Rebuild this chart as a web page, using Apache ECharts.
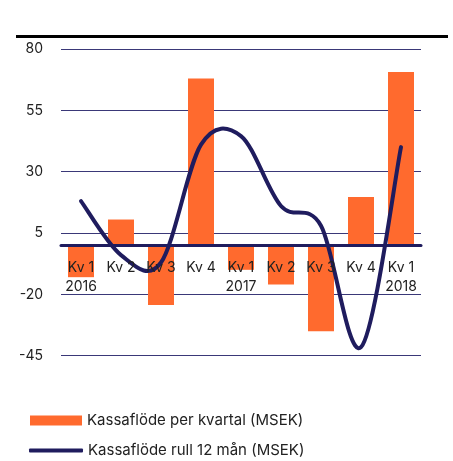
<!DOCTYPE html>
<html>
<head>
<meta charset="utf-8">
<script src="https://cdn.jsdelivr.net/npm/echarts@6/dist/echarts.min.js"></script>
<style>
html,body{margin:0;padding:0;background:#fff;}
#chart{width:453px;height:461px;}
</style>
</head>
<body>
<div id="chart"></div>
<script>
const categories = ['Kv 1\n2016','Kv 2','Kv 3','Kv 4','Kv 1\n2017','Kv 2','Kv 3','Kv 4','Kv 1\n2018'];
const quarterly = [-13, 10.5, -24.3, 68, -10, -16, -35, 19.7, 70.6];
const rolling12 = [18, -4, -7, 41, 44.5, 16, 8, -41.5, 40];
const yTicks = [-45, -20, 5, 30, 55, 80];
const Y_MIN = -45, Y_MAX = 80;

const GRID_TOP = 49, GRID_H = 306.7;
const zeroOffset = -GRID_H * (0 - Y_MIN) / (Y_MAX - Y_MIN);

const chart = echarts.init(document.getElementById('chart'));
const navy = '#1f1c5e';
const font = 'Inter, "Noto Sans", sans-serif';

// Catmull-Rom spline through the points, in pixel space from api.coord
function renderSpline(params, api) {
  if (params.dataIndex !== 0) return null;
  const pts = rolling12.map((v, i) => api.coord([i, v]));
  let d = 'M' + pts[0][0] + ' ' + pts[0][1];
  for (let i = 0; i < pts.length - 1; i++) {
    const p0 = pts[Math.max(0, i - 1)], p1 = pts[i], p2 = pts[i + 1], p3 = pts[Math.min(pts.length - 1, i + 2)];
    const c1x = p1[0] + (p2[0] - p0[0]) / 6, c1y = p1[1] + (p2[1] - p0[1]) / 6;
    const c2x = p2[0] - (p3[0] - p1[0]) / 6, c2y = p2[1] - (p3[1] - p1[1]) / 6;
    d += ' C' + c1x + ' ' + c1y + ' ' + c2x + ' ' + c2y + ' ' + p2[0] + ' ' + p2[1];
  }
  return {
    type: 'path',
    shape: { pathData: d },
    style: { stroke: navy, lineWidth: 4, fill: 'none', lineCap: 'round', lineJoin: 'round' }
  };
}

chart.setOption({
  animation: false,
  textStyle: { fontFamily: font },
  grid: { left: 61, right: 32, top: GRID_TOP, height: GRID_H, containLabel: false },
  graphic: [
    { type: 'rect', shape: { x: 16, y: 35, width: 432, height: 3 }, style: { fill: '#000' } }
  ],
  legend: [
    { left: 30, top: 413, padding: 0, itemWidth: 52, itemHeight: 10,
      textStyle: { fontSize: 15, color: '#222', fontFamily: font },
      data: [{ name: 'Kassaflöde per kvartal (MSEK)', icon: 'rect' }] },
    { left: 29, top: 443, padding: 0, itemWidth: 54, itemHeight: 4,
      textStyle: { fontSize: 15, color: '#222', fontFamily: font },
      data: [{ name: 'Kassaflöde rull 12 mån (MSEK)', icon: 'roundRect' }] }
  ],
  xAxis: {
    type: 'category', data: categories,
    offset: zeroOffset,
    axisLine: { onZero: false, lineStyle: { color: navy, width: 3 } },
    axisTick: { show: false },
    axisLabel: { color: '#222', fontSize: 14, lineHeight: 19, margin: 13, interval: 0 },
    z: 10
  },
  yAxis: {
    type: 'value', min: Y_MIN, max: Y_MAX, interval: 25,
    axisLine: { show: false }, axisTick: { show: false },
    axisLabel: { color: '#222', fontSize: 14, margin: 18,
      formatter: v => yTicks.includes(v) ? String(v) : '' },
    splitLine: { lineStyle: { color: '#3a3878', width: 1 } }
  },
  series: [
    { name: 'Kassaflöde per kvartal (MSEK)', type: 'bar', data: quarterly, barWidth: 26,
      itemStyle: { color: '#ff6a2e' }, z: 2 },
    { name: 'Kassaflöde rull 12 mån (MSEK)', type: 'custom',
      data: rolling12.map((v, i) => [i, v]),
      encode: { x: 0, y: 1 },
      renderItem: renderSpline,
      itemStyle: { color: navy }, z: 5 }
  ]
});
</script>
</body>
</html>
